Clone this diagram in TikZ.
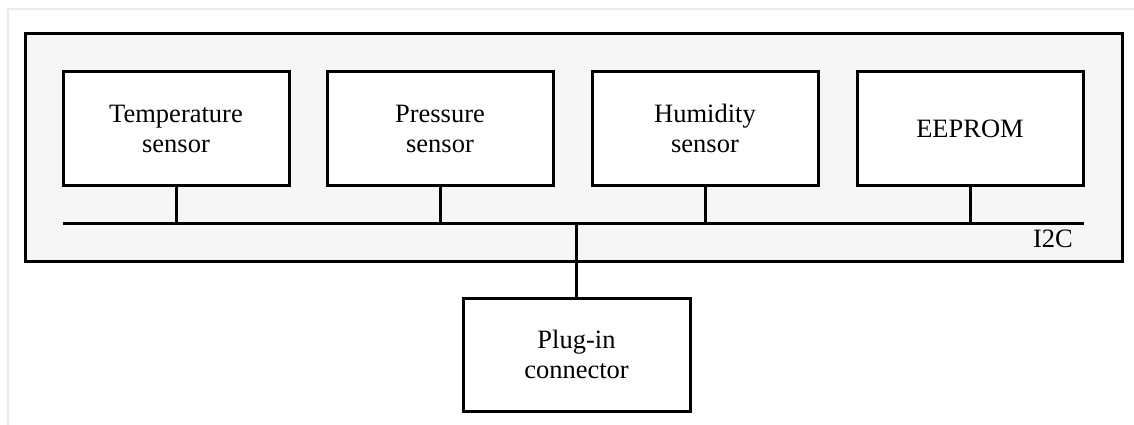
\documentclass[tikz,border=0pt]{standalone}
\usepackage{fontspec}
\setmainfont{Liberation Serif}
\definecolor{panelfill}{HTML}{F6F6F6}
\definecolor{framegray}{HTML}{EBEBEB}
\tikzset{
  blockbox/.style={draw=black, fill=white, line width=3pt, minimum width=226pt, minimum height=113pt, inner sep=0pt, align=center, font=\fontsize{26.5}{30}\selectfont},
  wire/.style={draw=black, line width=3pt},
}
\begin{document}
\begin{tikzpicture}[x=1pt,y=-1pt]
\useasboundingbox (0,0) rectangle (1134,425);
\draw[framegray, line width=1.5pt] (8,430) -- (8,9) -- (1140,9);
\draw[line width=3pt, fill=panelfill] (25,34) rectangle (1122,261);
\node[blockbox] (temp) at (176,128.5) {Temperature\\sensor};
\node[blockbox] (pres) at (440,128.5) {Pressure\\sensor};
\node[blockbox] (humi) at (705,128.5) {Humidity\\sensor};
\node[blockbox] (eeprom) at (970,128.5) {EEPROM};
\node[blockbox, minimum width=227pt] (plug) at (576.5,354.5) {Plug-in\\connector};
\coordinate (busL) at (63,223);
\coordinate (busR) at (1084,223);
\draw[wire] (busL) -- (busR);
\draw[wire] (temp.south) -- (temp.south |- busL);
\draw[wire] (pres.south) -- (pres.south |- busL);
\draw[wire] (humi.south) -- (humi.south |- busL);
\draw[wire] (eeprom.south) -- (eeprom.south |- busL);
\draw[wire] (plug.north) -- (plug.north |- busL);
\node[anchor=base east, inner sep=0pt, font=\fontsize{26.5}{30}\selectfont] (i2c) at (1073,247) {I2C};
\end{tikzpicture}
\end{document}
